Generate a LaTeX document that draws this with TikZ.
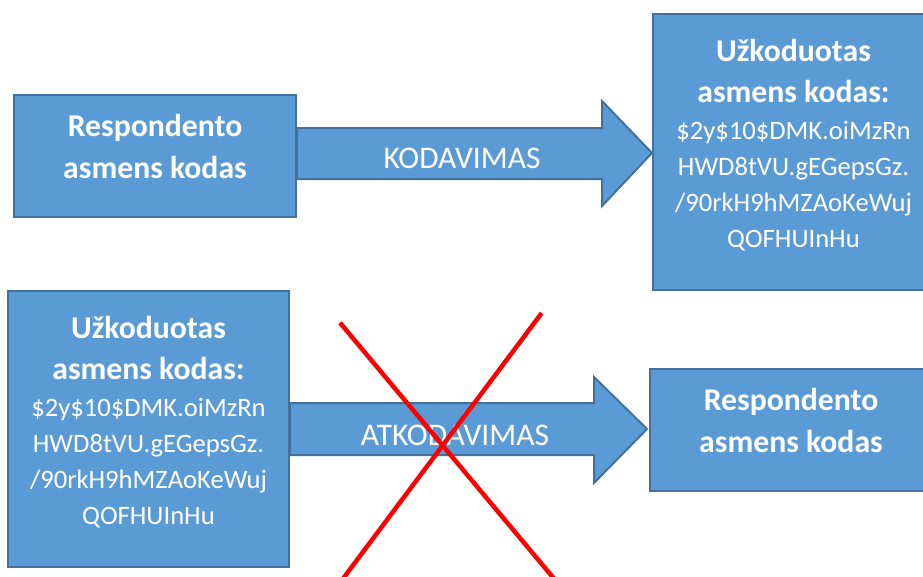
\documentclass[tikz,border=0pt]{standalone}
\usepackage{fontspec}
\setmainfont{Carlito}
\usetikzlibrary{calc}
\definecolor{boxblue}{HTML}{5B9BD5}
\definecolor{boxedge}{HTML}{41719C}
\newcommand{\hdr}[1]{{\fontsize{31.7}{41}\selectfont\bfseries #1}}
\newcommand{\lift}[1]{\rule[-#1pt]{0pt}{#1pt}}

\begin{document}
\begin{tikzpicture}[x=1pt,y=-1pt,
  box/.style={draw=boxedge,line width=2pt,fill=boxblue,text=white,align=center,inner sep=0pt,font=\fontsize{26.6}{36}\selectfont},
  barrow/.style={draw=boxedge,line width=2pt,fill=boxblue,line join=miter},
  albl/.style={text=white,font=\fontsize{31.5}{38}\selectfont,anchor=base},
  cross/.style={draw=red,line width=4.5pt}]
\useasboundingbox (0,0) rectangle (923,576);

\node[box,minimum width=282pt,minimum height=122pt] (resp1) at (155,156)
  {\hdr{Respondento}\\[6pt]\hdr{asmens kodas}\lift{19}};
\node[box,minimum width=281pt,minimum height=276pt] (enc1) at (793.5,152)
  {\hdr{Užkoduotas}\\[5pt]\hdr{asmens kodas:}\\[1pt]\$2y\$10\$DMK.oiMzRn\\HWD8tVU.gEGepsGz.\\/90rkH9hMZAoKeWuj\\QOFHUInHu\lift{17}};
\node[box,minimum width=281pt,minimum height=276pt] (enc2) at (148.5,429)
  {\hdr{Užkoduotas}\\[5pt]\hdr{asmens kodas:}\\[1pt]\$2y\$10\$DMK.oiMzRn\\HWD8tVU.gEGepsGz.\\/90rkH9hMZAoKeWuj\\QOFHUInHu\lift{17}};
\node[box,minimum width=282pt,minimum height=122pt] (resp2) at (791,430)
  {\hdr{Respondento}\\[6pt]\hdr{asmens kodas}\lift{19}};

% block arrows
\draw[barrow] (resp1.east |- 0,128) -- ($(enc1.west |- 0,128)+(-50,0)$)
  -- ($(enc1.west |- 0,101)+(-50,0)$) -- (enc1.west |- 0,153)
  -- ($(enc1.west |- 0,206)+(-50,0)$) -- ($(enc1.west |- 0,179)+(-50,0)$)
  -- (resp1.east |- 0,179) -- cycle;
\node[albl] (kod) at (462,168) {KODAVIMAS};

\draw[barrow] (enc2.east |- 0,403) -- ($(resp2.west |- 0,403)+(-55,0)$)
  -- ($(resp2.west |- 0,377)+(-55,0)$) -- ($(resp2.west |- 0,429)+(-2,0)$)
  -- ($(resp2.west |- 0,483)+(-55,0)$) -- ($(resp2.west |- 0,455)+(-55,0)$)
  -- (enc2.east |- 0,455) -- cycle;
\node[albl] (atkod) at (455,445) {ATKODAVIMAS};

\draw[cross] (340,322.7) -- (563.5,590);
\draw[cross] (541.7,313) -- (334.5,590);
\end{tikzpicture}
\end{document}
